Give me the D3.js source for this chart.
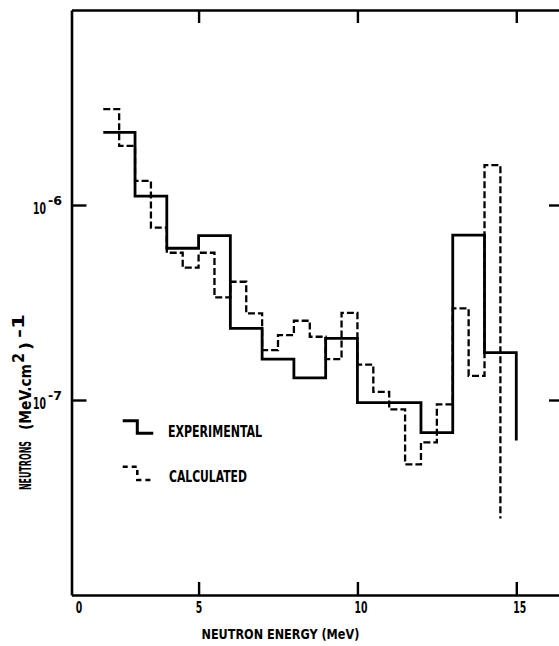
<!DOCTYPE html>
<html>
<head>
<meta charset="utf-8">
<script src="https://cdn.jsdelivr.net/npm/d3@7"></script>
<style>
  html, body { margin: 0; padding: 0; background: #fff; }
  svg { display: block; }
  text { font-family: "DejaVu Sans", "Liberation Sans Narrow", sans-serif; font-stretch: condensed; font-weight: bold; fill: #000; }
</style>
</head>
<body>
<svg id="chart" width="559" height="646"></svg>
<script>
// ---- data ----
// Experimental spectrum: 1 MeV bins, lower edges + last upper edge
const expEdges  = [2, 3, 4, 5, 6, 7, 8, 9, 10, 11, 12, 13, 14, 15];
const expValues = [2.36e-6, 1.11e-6, 6.0e-7, 6.96e-7, 2.33e-7, 1.62e-7, 1.30e-7,
                   2.07e-7, 9.7e-8, 9.7e-8, 6.8e-8, 7.0e-7, 1.75e-7];
const expEnd = 6.2e-8;   // where the final vertical stroke stops

// Calculated spectrum: 0.5 MeV bins
const calcEdges  = [2, 2.5, 3, 3.5, 4, 4.5, 5, 5.5, 6, 6.5, 7, 7.5, 8, 8.5, 9, 9.5,
                    10, 10.5, 11, 11.5, 12, 12.5, 13, 13.5, 14, 14.5];
const calcValues = [3.10e-6, 2.01e-6, 1.33e-6, 7.65e-7, 5.69e-7, 4.77e-7, 5.69e-7,
                    3.36e-7, 4.04e-7, 2.78e-7, 1.80e-7, 2.15e-7, 2.55e-7, 2.11e-7,
                    1.62e-7, 2.80e-7, 1.52e-7, 1.10e-7, 8.96e-8, 4.68e-8, 6.07e-8,
                    9.5e-8, 2.95e-7, 1.33e-7, 1.60e-6];
const calcEnd = 2.47e-8;

const xTicks = [5, 10, 15];
const xOriginLabel = "0";
const yTicks = [1e-6, 1e-7];
const yTickExponents = ["-6", "-7"];
const legendLabels = ["EXPERIMENTAL", "CALCULATED"];
const xTitle = "NEUTRON ENERGY (MeV)";

// ---- layout ----
const svg = d3.select("#chart");
const L = 71.5, R = 562, T = 10, B = 595;
const x = d3.scaleLinear().domain([1, 1 + (R - L) / 31.77]).range([L, R]);
const y = d3.scaleLog().domain([1e-8, 1e-5]).range([B, T]);

const axisW = 2.6;
function styleAxis(g) {
  g.attr("font-family", null).attr("font-size", null);
  g.select(".domain").attr("stroke", "#000").attr("stroke-width", axisW);
  g.selectAll(".tick line").attr("stroke", "#000").attr("stroke-width", 2.4);
}
// place a condensed text: anchored at (px,py), squeezed horizontally to width w
function fitText(parent, str, px, py, size, w, anchor) {
  const t = parent.append("text").attr("x", 0).attr("y", 0)
    .attr("font-size", size).attr("text-anchor", anchor || "start").text(str);
  const nat = t.node().getComputedTextLength() || w;
  t.attr("transform", `translate(${px},${py}) scale(${w / nat},1)`);
  return t;
}

// bottom
const gB = svg.append("g").attr("transform", `translate(0,${B})`)
  .call(d3.axisBottom(x).tickValues(xTicks).tickSize(-13).tickSizeOuter(0).tickFormat(""));
styleAxis(gB);
gB.selectAll(".tick").each(function(d) {
  fitText(d3.select(this), String(d), d < 10 ? 0 : 3, 17.5, 15, d < 10 ? 6.5 : 13, "middle");
});
fitText(svg, xOriginLabel, 79, B + 17.5, 15, 6.5, "middle");

// top
const gT = svg.append("g").attr("transform", `translate(0,${T})`)
  .call(d3.axisTop(x).tickValues(xTicks).tickSize(-13).tickSizeOuter(0).tickFormat(""));
styleAxis(gT);

// left
const gL = svg.append("g").attr("transform", `translate(${L},0)`)
  .call(d3.axisLeft(y).tickValues(yTicks).tickSize(-15).tickSizeOuter(0).tickFormat(""));
styleAxis(gL);
gL.selectAll(".tick").each(function(d, i) {
  const g = d3.select(this);
  fitText(g, "10", 33 - L, 8.5, 16, 13);
  fitText(g, yTickExponents[i], 48 - L, -0.5, 13, 14);
});

// right
const gR = svg.append("g").attr("transform", `translate(${R},0)`)
  .call(d3.axisRight(y).tickValues(yTicks).tickSize(-13).tickSizeOuter(0).tickFormat(""));
styleAxis(gR);

// ---- histograms ----
function stepPoints(edges, values, endVal) {
  const pts = values.map((v, i) => [edges[i], v]);
  pts.push([edges[edges.length - 1], values[values.length - 1]]);
  pts.push([edges[edges.length - 1], endVal]);
  return pts;
}
const line = d3.line().x(d => x(d[0])).y(d => y(d[1])).curve(d3.curveStepAfter);

svg.append("path").attr("d", line(stepPoints(calcEdges, calcValues, calcEnd)))
  .attr("fill", "none").attr("stroke", "#000").attr("stroke-width", 2.3)
  .attr("stroke-dasharray", "7,3");
svg.append("path").attr("d", line(stepPoints(expEdges, expValues, expEnd)))
  .attr("fill", "none").attr("stroke", "#000").attr("stroke-width", 2.8);

// ---- legend ----
svg.append("path").attr("d", "M122.7,420.7H137.3V433.3H153.3")
  .attr("fill", "none").attr("stroke", "#000").attr("stroke-width", 3);
fitText(svg, legendLabels[0], 168, 436.5, 15, 94);
svg.append("path").attr("d", "M122.7,466.7H137.3V480H153.3")
  .attr("fill", "none").attr("stroke", "#000").attr("stroke-width", 2.6)
  .attr("stroke-dasharray", "5,4");
fitText(svg, legendLabels[1], 169, 481.5, 15, 78);

// ---- axis titles ----
fitText(svg, xTitle, 201.5, 638.5, 14.5, 158);

const yt = svg.append("g").attr("transform", "translate(31,0) rotate(-90)");
fitText(yt, "NEUTRONS", -490, 0, 15, 49);
fitText(yt, "(MeV.cm", -430, 0, 15, 66);
fitText(yt, "2", -363, -7, 15, 10);
fitText(yt, ")", -350, 0, 15, 8);
fitText(yt, "-1", -338, -7, 15, 24);
</script>
</body>
</html>
